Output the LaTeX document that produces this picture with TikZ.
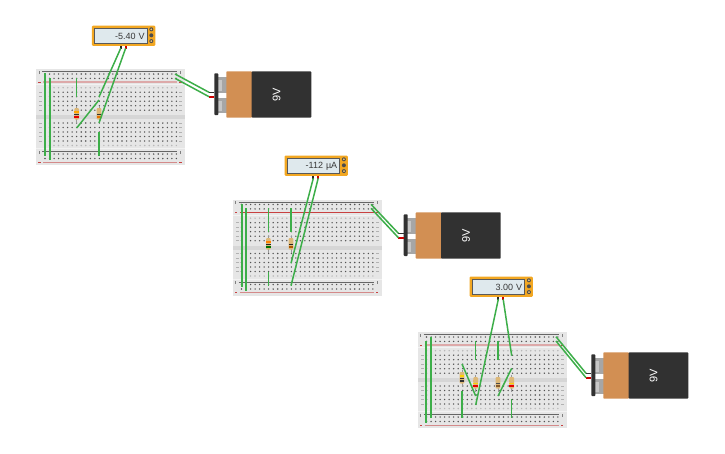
\documentclass[tikz,border=0pt]{standalone}
\usepackage{fontspec}
\setmainfont{Liberation Sans}
\definecolor{bdbg}{HTML}{E6E6E6}
\definecolor{bdgap}{HTML}{D6D6D6}
\definecolor{wiregreen}{HTML}{3DAE49}
\definecolor{metorange}{HTML}{F2A722}
\definecolor{metscreen}{HTML}{DFE9ED}
\definecolor{batorange}{HTML}{D28F53}
\definecolor{batblack}{HTML}{313131}
\definecolor{restan}{HTML}{DDB877}
\definecolor{railpale}{HTML}{DDA9A9}
\definecolor{railmid}{HTML}{D48A8A}
\definecolor{railstrong}{HTML}{C84040}
\tikzset{
  wire/.style={draw=wiregreen,line width=1.5pt},
  widewire/.style={draw=wiregreen,line width=1.9pt},
  hole/.style={fill=black!68},
  faint/.style={fill=black!28},
  meterbody/.style={draw=none,fill=metorange,rounded corners=1.2pt,minimum width=63.4pt,minimum height=20.4pt,inner sep=0pt,anchor=north west},
  meterscreen/.style={draw=black!65,line width=.7pt,fill=metscreen,minimum width=52.4pt,minimum height=15.4pt,text width=47.5pt,align=right,inner sep=0pt,anchor=north west,font=\fontsize{9}{9}\selectfont,text=black!78},
  batlabel/.style={text=white,rotate=90,font=\fontsize{11}{11}\selectfont,inner sep=0pt}
}
\newcommand{\boardat}[5]{%
 \begin{scope}[shift={(#1,#2)}]
  \fill[bdbg] (0,0) rectangle (149,96);
  \fill[bdgap] (0,46) rectangle (149,50);
  \fill[white,opacity=.5] (0,15) rectangle (149,16);
  \fill[white,opacity=.5] (0,79) rectangle (149,80);
  \draw[black!60,line width=.8pt] (6,2.7) -- (141,2.7);
  \draw[black!60,line width=.8pt] (6,82.7) -- (141,82.7);
  \draw[#4,line width=#3] (7,13) -- (141,13);
  \draw[#5,line width=.8pt] (7,93) -- (141,93);
  \foreach \mx in {3.3,144.5}{
    \fill[black!50] (\mx-.4,1.5) rectangle (\mx+.4,4.5);
    \fill[black!50] (\mx-.4,81.5) rectangle (\mx+.4,84.5);
    \fill[railstrong] (\mx-1.2,12.6) rectangle (\mx+1.2,13.4);
    \fill[railstrong] (\mx-1.2,92.6) rectangle (\mx+1.2,93.4);
  }
  \foreach \k in {0,...,29}{
    \pgfmathsetmacro{\cx}{9+4.53*\k}
    \foreach \ry in {5,9.4,23.2,27.7,32.2,36.7,41.2,54,58.5,63,67.5,72,85,89.5}{
      \fill[hole] (\cx,\ry) circle (.78pt);
    }
    \foreach \ry in {18.7,76.5}{
      \fill[faint] (\cx,\ry) circle (.85pt);
    }
  }
  \foreach \ry in {23.2,27.7,32.2,36.7,41.2,54,58.5,63,67.5,72}{
    \fill[black!30] (3,\ry-.5) rectangle (6,\ry+.5);
    \fill[black!30] (143,\ry-.5) rectangle (146,\ry+.5);
  }
 \end{scope}}
\newcommand{\resistorat}[5]{%
 \begin{scope}[shift={(#1,#2)}]
  \draw[black!40,line width=.7pt] (0,-2) -- (0,15);
  \fill[restan,rounded corners=1pt] (-2.3,0) rectangle (2.3,11.5);
  \fill[#3] (-2.3,3.4) rectangle (2.3,4.6);
  \fill[#4] (-2.3,6) rectangle (2.3,7.2);
  \fill[#5] (-2.3,8.4) rectangle (2.3,9.8);
 \end{scope}}
\newcommand{\batteryat}[3]{%
 \begin{scope}[shift={(#2,#3)}]
  \fill[black!35] (218,77.3) rectangle (226.5,93.3);
  \fill[black!22] (218,80) rectangle (222,91);
  \fill[black!35] (218,97.7) rectangle (226.5,113.3);
  \fill[black!22] (218,100.5) rectangle (222,111);
  \fill[batblack,rounded corners=.8pt] (214.3,73.3) rectangle (218.3,115);
  \fill[batorange,rounded corners=.8pt] (226.3,71.3) rectangle (252,117.7);
  \fill[batblack,rounded corners=.8pt] (251.7,71.3) rectangle (311.3,117.7);
  \node[batlabel] (#1-lab) at (276.7,95) {9V};
  \fill[batblack] (208.6,91.6) rectangle (214.3,93.1);
  \fill[red!80!black] (208.6,96) rectangle (214.3,97.5);
  \coordinate (#1-k) at (209,92.3);
  \coordinate (#1-r) at (209,96.7);
 \end{scope}}
\newcommand{\meterat}[4]{%
 \begin{scope}[shift={(#2,#3)}]
  \node[meterbody] (#1) at (0,0) {};
  \node[meterscreen] (#1-s) at (2.6,2.7) {#4};
  \fill[black!70] (59.6,4) circle (2pt);
  \fill[black!70] (59.6,10) circle (2pt);
  \fill[black!70] (59.6,15.8) circle (2pt);
  \fill[metorange!60] (59.6,4) circle (1pt);
  \fill[metorange!60] (59.6,15.8) circle (1pt);
  \fill[black!85] (27.9,20.4) rectangle (30.1,23.4);
  \fill[red!80!black] (32.8,20.4) rectangle (35,23.4);
  \coordinate (#1-k) at (29,23);
  \coordinate (#1-r) at (33.9,23);
 \end{scope}}
\newcommand{\linkw}[5][wire]{%
 \coordinate (#2) at #3; \coordinate (#4) at #5;
 \draw[#1] (#2) -- (#4);}
\begin{document}
\begin{tikzpicture}[x=1pt,y=-1pt]
\useasboundingbox (0,0) rectangle (725,453);
\boardat{36}{69}{1.8pt}{railpale}{railmid}
\boardat{232.5}{199.5}{1pt}{railstrong}{railmid}
\boardat{417.5}{332}{1.3pt}{railpale}{railmid}
\resistorat{76.7}{108}{orange!70!yellow}{black!80}{red!90!black}
\resistorat{99}{108}{restan}{black!80}{orange!90!black}
\resistorat{268.3}{238}{orange}{black!85}{green!45!black}
\resistorat{291}{238}{restan}{black!85}{orange!70!black}
\resistorat{462}{372}{yellow!70!orange}{black!80}{black!80}
\resistorat{475.7}{377}{restan}{yellow!70!orange}{red!90!black}
\resistorat{498}{377}{restan}{black!70}{brown!70!black}
\resistorat{511.7}{377}{restan}{yellow!70!orange}{red!90!black}
\batteryat{bat1}{0}{0}
\batteryat{bat2}{189.4}{141}
\batteryat{bat3}{377}{281}
\meterat{m1}{91.7}{25.3}{-5.40 V}
\meterat{m2}{284.3}{155.3}{-112 µA}
\meterat{m3}{469.3}{276.3}{3.00 V}
% board 1
\linkw[widewire]{a1}{(45,73.3)}{a2}{(45,155.7)}
\linkw[widewire]{a3}{(49.7,78.3)}{a4}{(49.7,160)}
\linkw{a5}{(76.7,78)}{a6}{(76.7,97)}
\linkw{a7}{(99,100)}{a8}{(76.7,128)}
\linkw[widewire]{a9}{(99,131.7)}{a10}{(99,155.7)}
\coordinate (a11) at (99,97); \draw[wire] (m1-k) -- (a11);
\coordinate (a12) at (99,123); \draw[wire] (m1-r) -- (a12);
\coordinate (a13) at (175,74); \draw[wire] (a13) -- (bat1-k);
\coordinate (a14) at (175,78.3); \draw[wire] (a14) -- (bat1-r);
% board 2
\linkw[widewire]{b1}{(241.7,204.3)}{b2}{(241.7,286.7)}
\linkw[widewire]{b3}{(246,208.3)}{b4}{(246,290.7)}
\linkw{b5}{(268.3,208.3)}{b6}{(268.3,231.7)}
\linkw[widewire]{b7}{(291,208.3)}{b8}{(291,231.7)}
\linkw{b9}{(268.3,271.7)}{b10}{(268.3,286)}
\coordinate (b11) at (291,263.3); \draw[wire] (m2-k) -- (b11);
\coordinate (b12) at (291,285.7); \draw[wire] (m2-r) -- (b12);
\coordinate (b13) at (371,204.3); \draw[wire] (b13) -- (bat2-k);
\coordinate (b14) at (371,208.3); \draw[wire] (b14) -- (bat2-r);
% board 3
\linkw[widewire]{c1}{(426,341)}{c2}{(426,422.7)}
\linkw[widewire]{c3}{(430.7,336.7)}{c4}{(430.7,418.3)}
\linkw{c5}{(475.7,341)}{c6}{(475.7,360)}
\linkw[widewire]{c7}{(498,341)}{c8}{(498,360)}
\linkw{c9}{(462,364)}{c10}{(475.7,396)}
\linkw{c11}{(511.7,368.3)}{c12}{(498,396)}
\linkw{c13}{(462,390.7)}{c14}{(462,418.3)}
\linkw{c15}{(511.7,399.3)}{c16}{(511.7,418.3)}
\coordinate (c17) at (475.7,405); \draw[wire] (m3-k) -- (c17);
\coordinate (c18) at (511.7,355.7); \draw[wire] (m3-r) -- (c18);
\coordinate (c19) at (556,336.7); \draw[wire] (c19) -- (bat3-k);
\coordinate (c20) at (556,341); \draw[wire] (c20) -- (bat3-r);
\end{tikzpicture}
\end{document}
